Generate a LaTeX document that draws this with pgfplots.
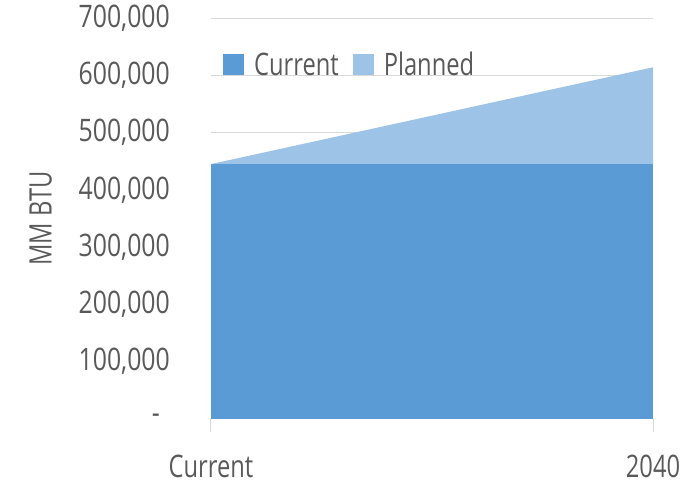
\documentclass[border=0pt]{standalone}
\usepackage{fontspec}
\setmainfont{Open Sans}[FakeStretch=0.765]
\newfontfamily\numfont{Open Sans}[FakeStretch=0.8]
\usepackage{pgfplots}
\pgfplotsset{compat=1.18}
\definecolor{cur}{HTML}{5B9BD5}
\definecolor{pla}{HTML}{9DC3E6}
\definecolor{gridc}{HTML}{D9D9D9}
\definecolor{txt}{HTML}{595959}
\begin{document}
\begin{tikzpicture}
\begin{axis}[
  scale only axis,
  width=442pt, height=401pt,
  xmin=0, xmax=1, ymin=0, ymax=700000,
  scaled y ticks=false,
  stack plots=y,
  xtick={0,1}, xticklabels={Current,2040},
  ytick={0,100000,200000,300000,400000,500000,600000,700000},
  yticklabels={{-\rule{10pt}{0pt}},{100,000},{200,000},{300,000},{400,000},{500,000},{600,000},{700,000}},
  axis x line*=bottom, axis y line*=left,
  x axis line style={draw=gridc, line width=1pt, -},
  y axis line style={draw=none},
  ytick style={draw=none},
  xtick style={draw=gridc, line width=1pt},
  major tick length=13pt, tick align=outside,
  ymajorgrids, grid style={draw=gridc, line width=1pt},
  font=\fontsize{31}{37}\selectfont,
  tick label style={text=txt},
  yticklabel style={anchor=east, inner sep=0pt, xshift=-28pt, font=\fontsize{31}{37}\numfont},
  xticklabel style={anchor=base, inner sep=0pt, yshift=-46pt},
  ylabel={MM BTU},
  every axis y label/.style={at={(axis description cs:-0.385,0.5)}, rotate=90, anchor=center, text=txt},
  legend columns=2,
  legend style={draw=none, fill=none, inner sep=0pt, at={(axis description cs:0.027,0.883)}, anchor=west, text=txt, font=\fontsize{31}{37}\selectfont,
    /tikz/every odd column/.append style={column sep=8pt},
    /tikz/every even column/.append style={column sep=12pt}},
  legend image code/.code={\path[#1, draw=none] (0pt,-10pt) rectangle (21pt,11pt);},
]
\addplot[fill=cur, draw=none] coordinates {(0,445000) (1,445000)} \closedcycle;
\addlegendentry{Current}
\addplot[fill=pla, draw=none] coordinates {(0,0) (1,169000)} \closedcycle;
\addlegendentry{Planned}
\end{axis}
\pgfresetboundingbox
\path[use as bounding box] (-211pt,-67pt) rectangle (472pt,419pt);
\end{tikzpicture}
\end{document}
